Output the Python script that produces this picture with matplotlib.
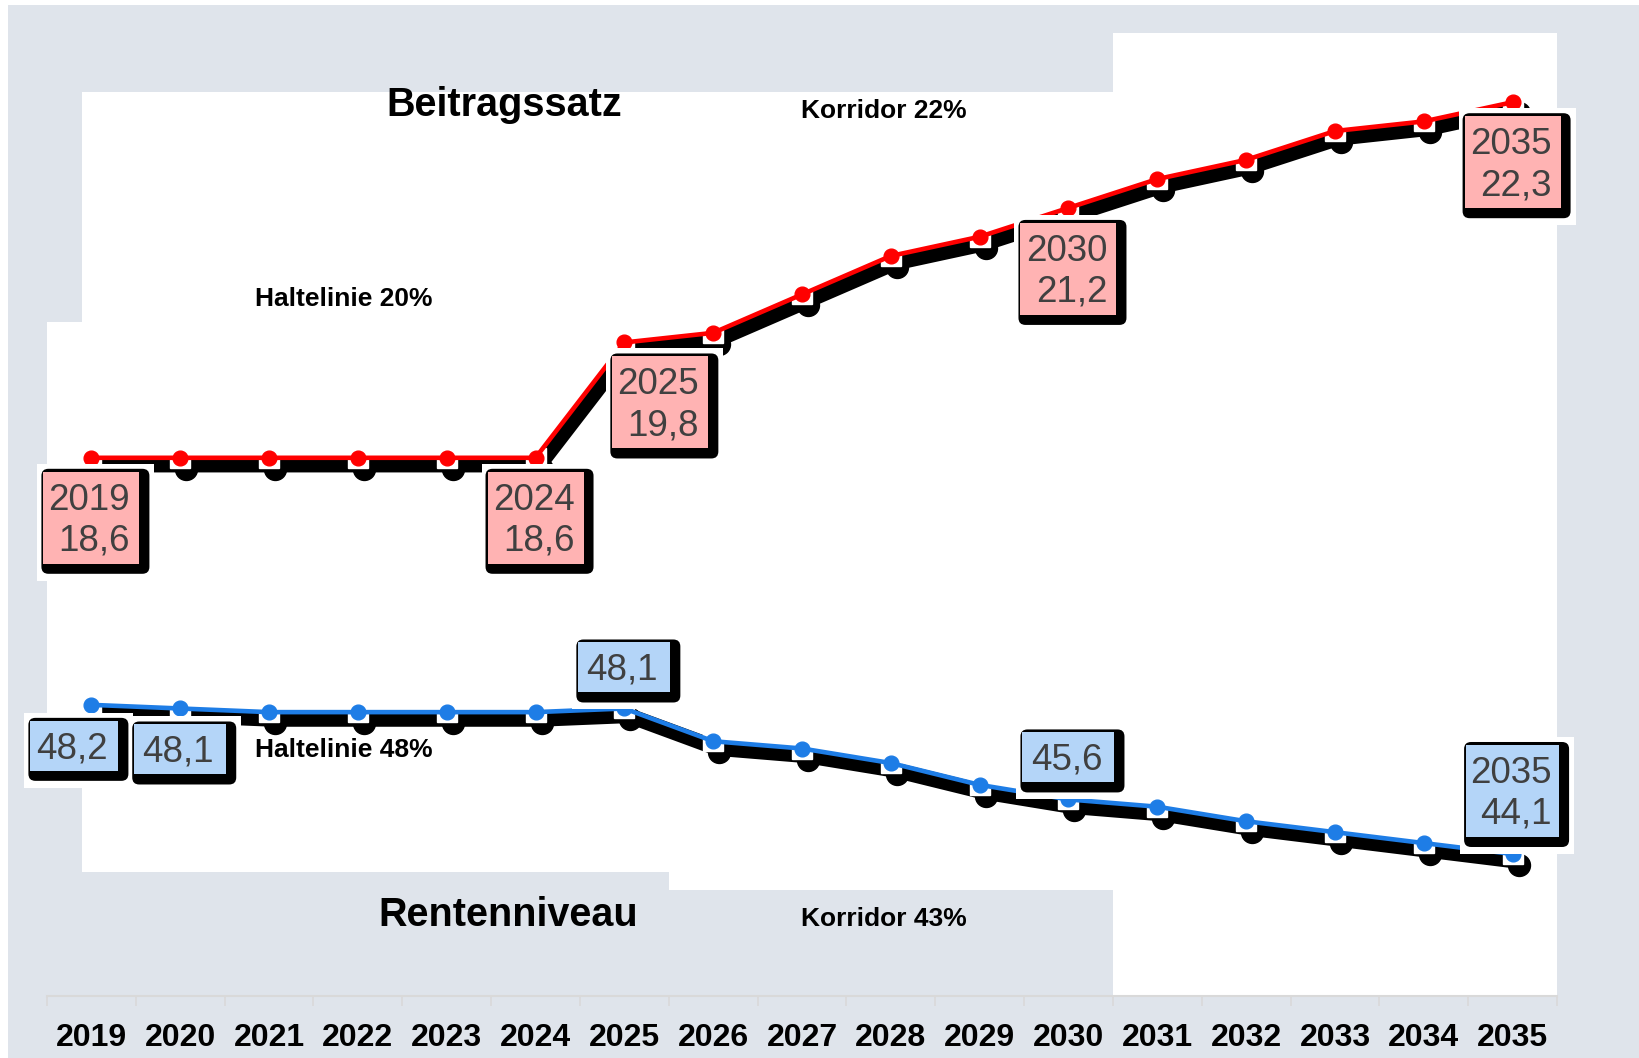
import matplotlib
matplotlib.use("Agg")
import matplotlib.pyplot as plt
from matplotlib.patches import Rectangle, FancyBboxPatch
import matplotlib.transforms as mtransforms

# ---------------- data ----------------
years = list(range(2019, 2036))
beitragssatz = [18.6, 18.6, 18.6, 18.6, 18.6, 18.6, 19.8, 19.9, 20.3, 20.7,
                20.9, 21.2, 21.5, 21.7, 22.0, 22.1, 22.3]
rentenniveau = [48.2, 48.1, 48.0, 48.0, 48.0, 48.0, 48.1, 47.2, 47.0, 46.6,
                46.0, 45.6, 45.4, 45.0, 44.7, 44.4, 44.1]
red_label_years = [2019, 2024, 2025, 2030, 2035]
blue_label_years = [2019, 2020, 2025, 2030, 2035]
blue_label_with_year = [False, False, False, False, True]
tick_labels = [str(y) for y in years]

title_top = "Beitragssatz"
title_bottom = "Rentenniveau"
notes = ["Korridor 22%", "Korridor 43%", "Haltelinie 20%", "Haltelinie 48%"]

# ---------------- style ----------------
W, H = 1639, 1058
GRAY = "#dfe4eb"
RED = "#ff0000"
BLUE = "#1e7de6"
PINK = "#ffb3b3"
LBLUE = "#b4d5f8"
TXT = "#404040"
FONT = "Liberation Sans"

plt.rcParams["font.family"] = [FONT, "DejaVu Sans"]

fig = plt.figure(figsize=(W / 100, H / 100), dpi=100, facecolor="white")
IDT = mtransforms.IdentityTransform()


def frect(x0, y0, x1, y1, color, z=-10):
    """rectangle in image pixel coords (origin top-left)"""
    fig.patches.append(Rectangle((x0, H - y1), x1 - x0, y1 - y0, transform=IDT,
                                 facecolor=color, edgecolor="none", zorder=z))


# background layout
frect(8, 5, W, H, GRAY, z=-20)
frect(82, 92, 669, 872, "white")
frect(669, 92, 1113, 890, "white")
frect(1113, 33, 1557, 996, "white")
frect(47, 322, 82, 720, "white")

# ---------------- axes ----------------
ax = fig.add_axes([47 / W, 1 - 996 / H, 1510 / W, 963 / H])
ax.patch.set_visible(False)
ax.set_xlim(2018.5, 2035.5)
ax.set_ylim(13.0, 23.02)
ax2 = ax.twinx()
ax2.patch.set_visible(False)
ax2.set_ylim(40.196, 66.67)

for a in (ax, ax2):
    for s in ("top", "left", "right"):
        a.spines[s].set_visible(False)
    a.set_yticks([])
ax2.spines["bottom"].set_visible(False)
ax.spines["bottom"].set_color("#d9d9d9")
ax.spines["bottom"].set_linewidth(1.5)

ax.set_xticks(years)
ax.set_xticklabels(tick_labels, fontsize=23, fontweight="bold", family=FONT)
ax.set_xticks([y - 0.5 for y in years] + [years[-1] + 0.5], minor=True)
ax.tick_params(axis="x", which="major", length=0, pad=19.5, colors="black")
ax.tick_params(axis="x", which="minor", length=7, width=1.2, color="#d9d9d9")


def series(axx, vals, color):
    off_line = mtransforms.offset_copy(axx.transData, fig=fig, x=4, y=-7, units="dots")
    axx.plot(years, vals, color="black", lw=11, solid_capstyle="butt",
             solid_joinstyle="miter", transform=off_line, zorder=2)
    off_m = mtransforms.offset_copy(axx.transData, fig=fig, x=6, y=-11, units="dots")
    axx.plot(years, vals, "o", ms=15.8, color="black", ls="none", transform=off_m, zorder=3)
    axx.plot(years, vals, "s", ms=14.4, color="white", mec="white", ls="none", zorder=4)
    axx.plot(years, vals, color=color, lw=3.3, zorder=5)
    axx.plot(years, vals, "o", ms=10.6, color=color, mec=color, ls="none", zorder=6)


series(ax, beitragssatz, RED)
series(ax2, rentenniveau, BLUE)


def label(axx, year, value, text, dx, dy, w, h, fill):
    xd, yd = axx.transData.transform((year, value))
    cx = xd + dx
    cy = yd - dy
    left, bottom = cx - w / 2, cy - h / 2
    fig.patches.append(Rectangle((left - 6, bottom - 17), w + 21, h + 25, transform=IDT,
                                 facecolor="white", edgecolor="none", zorder=5))
    fig.patches.append(FancyBboxPatch((left - 2, bottom - 10), w + 12, h + 13,
                                      boxstyle="round,pad=0,rounding_size=7", transform=IDT,
                                      facecolor="black", edgecolor="none", zorder=6))
    fig.patches.append(Rectangle((left, bottom), w, h, transform=IDT,
                                 facecolor=fill, edgecolor="none", zorder=7))
    fig.text(cx - 2, cy - 3, text, transform=IDT, ha="center", va="center",
             multialignment="right", fontsize=26.5, color=TXT, family=FONT,
             linespacing=1.22, zorder=8)


def fmt(v):
    return f"{v:.1f}".replace(".", ",")


red_offsets = {2019: (0, 60), 2024: (0, 60), 2025: (36, 60), 2030: (0, 61), 2035: (0, 60)}
for yr in red_label_years:
    v = beitragssatz[years.index(yr)]
    dx, dy = red_offsets[yr]
    label(ax, yr, v, f"{yr}\n{fmt(v)}", dx, dy, 96, 92, PINK)

blue_offsets = {2019: (-17, 41), 2020: (0, 41), 2025: (0, -41), 2030: (0, -42), 2035: (0, -63)}
for yr, with_year in zip(blue_label_years, blue_label_with_year):
    v = rentenniveau[years.index(yr)]
    dx, dy = blue_offsets[yr]
    if with_year:
        label(ax2, yr, v, f"{yr}\n{fmt(v)}", dx, dy, 93, 92, LBLUE)
    else:
        w = 88 if yr == 2019 else 92
        label(ax2, yr, v, fmt(v), dx, dy, w, 50, LBLUE)


def ftext(x, y, s, size, ha="center"):
    fig.text(x, H - y, s, transform=IDT, ha=ha, va="baseline", fontsize=size,
             fontweight="bold", color="black", family=FONT, zorder=9)


ftext(504, 116, title_top, 28.5)
ftext(508, 926, title_bottom, 28.5)
ftext(884, 118, notes[0], 19)
ftext(884, 926, notes[1], 19)
ftext(255, 306, notes[2], 19, ha="left")
ftext(255, 757, notes[3], 19, ha="left")

fig.savefig("out.png", dpi=100, facecolor="white")
